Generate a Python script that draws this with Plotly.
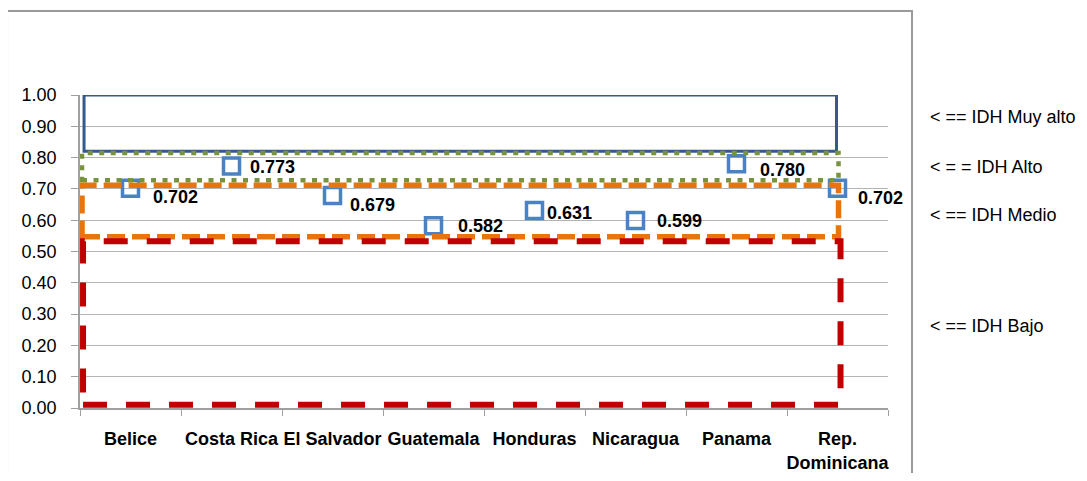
import plotly.graph_objects as go

# ---- data ----
countries = ["Belice", "Costa Rica", "El Salvador", "Guatemala", "Honduras",
             "Nicaragua", "Panama", "Rep.<br>Dominicana"]
idh = [0.702, 0.773, 0.679, 0.582, 0.631, 0.599, 0.780, 0.702]

band_labels = ["< == IDH Muy alto", "< = = IDH Alto", "< == IDH Medio", "< == IDH Bajo"]
band_low = [0.820, 0.728, 0.547, 0.010]
band_high = [1.000, 0.815, 0.712, 0.533]
band_label_y = [0.93, 0.77, 0.617, 0.262]

y_ticks = [0.0, 0.1, 0.2, 0.3, 0.4, 0.5, 0.6, 0.7, 0.8, 0.9, 1.0]

# ---- styles ----
band_styles = [
    dict(color="#345A8C", width=3, dash="solid", x0=-0.46, x1=6.99),
    dict(color="#77933C", width=4.5, dash="5px,6.5px", x0=-0.48, x1=7.01),
    dict(color="#E8740E", width=5.5, dash="18px,7px", x0=-0.48, x1=7.01),
    dict(color="#C00000", width=6, dash="24px,19px", x0=-0.47, x1=7.03),
]
label_dx = [23, 19, 18, 25, 13, 22, 24, 21]
label_dy = [9, 1, 10, 0, 2, 0, 6, 10]

ARIAL = "Liberation Sans, Arial, sans-serif"

fig = go.Figure()

fig.add_trace(go.Scatter(
    x=countries, y=idh, mode="markers",
    marker=dict(symbol="square-open", size=16, color="#4A82C3",
                line=dict(width=3.5, color="#4A82C3")),
    showlegend=False, hoverinfo="x+y",
))

shapes = []
for lo, hi, st in zip(band_low, band_high, band_styles):
    shapes.append(dict(type="rect", xref="x", yref="y", x0=st["x0"], x1=st["x1"],
                       y0=lo, y1=hi, layer="above",
                       line=dict(color=st["color"], width=st["width"], dash=st["dash"]),
                       fillcolor="rgba(0,0,0,0)"))
# outer frame
shapes.append(dict(type="rect", xref="paper", yref="paper", x0=-0.0903, x1=1.0297,
                   y0=-0.4, y1=1.2684, layer="below",
                   line=dict(color="#9A9A9A", width=2), fillcolor="rgba(0,0,0,0)"))

annotations = []
for i, v in enumerate(idh):
    annotations.append(dict(x=i, y=v, xref="x", yref="y", text=f"{v:.3f}",
                            showarrow=False, xanchor="left", yanchor="middle",
                            xshift=label_dx[i] - 3, yshift=-label_dy[i],
                            font=dict(family=ARIAL, size=18, color="black", weight="bold")))
for lab, yy in zip(band_labels, band_label_y):
    annotations.append(dict(x=1.0495, y=yy, xref="paper", yref="y", text=lab,
                            showarrow=False, xanchor="left", yanchor="middle",
                            font=dict(family=ARIAL, size=18, color="black")))

fig.update_layout(
    width=1071, height=465,
    margin=dict(l=72, r=191, t=87, b=65, autoexpand=False),
    paper_bgcolor="white", plot_bgcolor="white",
    shapes=shapes, annotations=annotations,
    xaxis=dict(type="category", range=[-0.5, 7.5], tickson="boundaries",
               ticks="outside", ticklen=6, tickcolor="#A0A0A0", tickangle=0,
               automargin=False,
               showline=True, linecolor="#A0A0A0", linewidth=1.5,
               showgrid=False, zeroline=False,
               tickfont=dict(family=ARIAL, size=18, color="black", weight="bold"),
               ticklabelstandoff=14),
    yaxis=dict(range=[0, 1], tickvals=y_ticks, tickformat=".2f",
               ticks="outside", ticklen=7, tickcolor="#A0A0A0",
               automargin=False,
               showline=True, linecolor="#A0A0A0", linewidth=1.5,
               showgrid=True, gridcolor="#B4B4B4", gridwidth=1, zeroline=False,
               tickfont=dict(family=ARIAL, size=18, color="black"),
               ticklabelstandoff=11),
)

fig.write_html("out.html")
